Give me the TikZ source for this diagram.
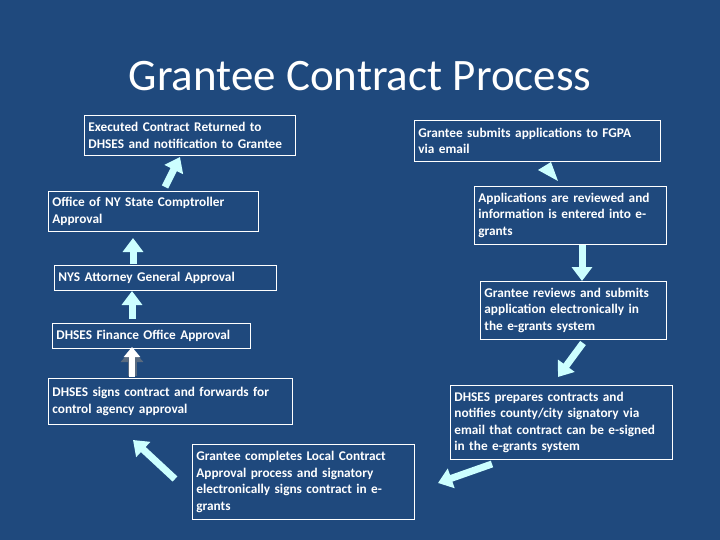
\documentclass[tikz,border=0pt]{standalone}
\usepackage{fontspec}
\setmainfont{Carlito}
\usetikzlibrary{arrows.meta}
\definecolor{bg}{RGB}{31,73,125}
\definecolor{arr}{RGB}{204,255,255}
\begin{document}
\begin{tikzpicture}[x=1pt,y=-1pt,
  box/.style={draw=white,line width=0.8pt,anchor=north west,text=white,align=left,inner sep=4pt,
    font=\fontsize{13.3}{16.5}\selectfont\bfseries},
  barr/.style={draw=arr,line width=7pt,-{Triangle[width=20pt,length=14pt]}}]
\fill[bg] (0,0) rectangle (720,540);
\useasboundingbox (0,0) rectangle (720,540);
\node[text=white,font=\fontsize{45}{50}\selectfont] (title) at (360,76) {Grantee Contract Process};
\newcommand\bx[6]{\node[box,text width=#4-#2-8pt,minimum height=#5-#3] (#1) at (#2,#3) {#6};}
\bx{A}{84}{115}{295}{155}{Executed Contract Returned to\\DHSES and notification to Grantee}
\bx{B}{48}{191}{258}{231}{Office of NY State Comptroller\\Approval}
\bx{C}{54}{265}{276}{290}{NYS Attorney General Approval}
\bx{D}{52}{323}{250}{348}{DHSES Finance Office Approval}
\bx{E}{48}{378}{292}{424}{DHSES signs contract and forwards for\\control agency approval}
\bx{F}{192}{444}{414}{519}{Grantee completes Local Contract\\Approval process and signatory\\electronically signs contract in e-\\grants}
\bx{G}{414}{120}{660}{161}{Grantee submits applications to FGPA\\via email}
\bx{H}{474}{186}{666}{244}{Applications are reviewed and\\information is entered into e-\\grants}
\bx{I}{480}{281}{666}{339}{Grantee reviews and submits\\application electronically in\\the e-grants system}
\bx{J}{450}{385}{672}{459}{DHSES prepares contracts and\\notifies county/city signatory via\\email that contract can be e-signed\\in the e-grants system}
\coordinate (ab) at (165,187); \coordinate (aa) at (180,157);
\coordinate (bb) at (133,264); \coordinate (ba) at (133,238);
\coordinate (cb) at (132,319); \coordinate (ca) at (132,291);
\coordinate (db) at (132,376); \coordinate (da) at (132,349);
\coordinate (eb) at (175,479); \coordinate (ea) at (133,440);
\coordinate (ga) at (538,170);
\coordinate (hb) at (582,245); \coordinate (ha) at (582,281);
\coordinate (ib) at (583,343); \coordinate (ia) at (558,377);
\coordinate (jb) at (492,464); \coordinate (ja) at (438,483);
\draw[barr] (ab) -- (aa);
\draw[barr] (bb) -- (ba);
\draw[barr] (cb) -- (ca);
\draw[draw=gray!60!bg,line width=9pt,-{Triangle[width=22pt,length=13pt]}] (db) -- (da);
\draw[draw=white,line width=6pt,-{Triangle[width=16pt,length=10pt]}] ([yshift=-1pt]db) -- ([yshift=2pt]da);
\draw[barr] (eb) -- (ea);
\fill[arr] (ga) -- (551,162) -- (558,181) -- cycle;
\draw[barr] (hb) -- (ha);
\draw[barr] (ib) -- (ia);
\draw[barr] (jb) -- (ja);
\end{tikzpicture}
\end{document}
